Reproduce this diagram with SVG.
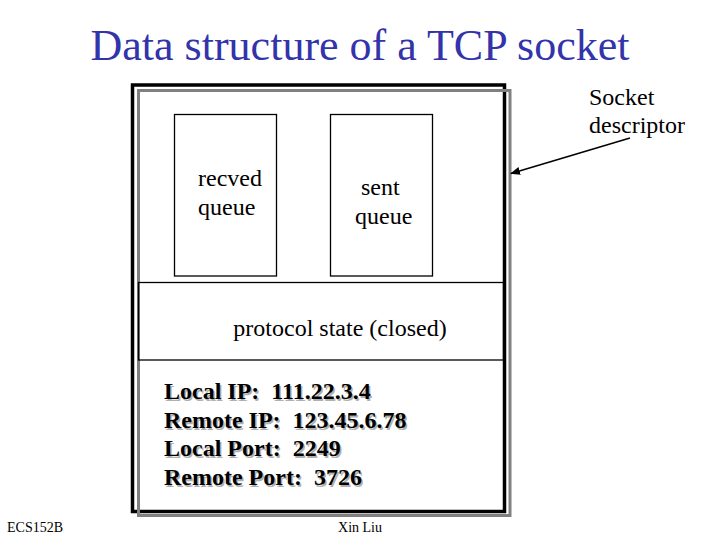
<svg xmlns="http://www.w3.org/2000/svg" width="720" height="540" viewBox="0 0 720 540">
<style>
.t{font-family:"Liberation Serif","Times New Roman",serif;fill:#000}
.box{fill:none;stroke:#000;stroke-width:1.3}
.info{font-family:"Liberation Serif","Times New Roman",serif;font-weight:bold;font-size:24px;white-space:pre}
</style>
<defs>
<marker id="ah" markerWidth="10" markerHeight="8" refX="9" refY="4" orient="auto" markerUnits="userSpaceOnUse">
<path d="M0,0 L10,4 L0,8 Z" fill="#000"/>
</marker>
</defs>
<rect width="720" height="540" fill="#fff"/>
<text class="t" x="360" y="60" text-anchor="middle" font-size="44" style="fill:#3333aa">Data structure of a TCP socket</text>
<g id="socket">
<rect x="132.5" y="85" width="372" height="426.5" fill="none" stroke="#000" stroke-width="3.5"/>
<rect x="138.5" y="90.5" width="371.5" height="425" fill="none" stroke="#808080" stroke-width="3"/>
</g>
<g id="recved">
<rect class="box" x="174.5" y="114.5" width="102" height="161.5"/>
<text class="t" font-size="24" x="198" y="186">recved</text>
<text class="t" font-size="24" x="198" y="215">queue</text>
</g>
<g id="sent">
<rect class="box" x="330.5" y="114.5" width="102" height="161.5"/>
<text class="t" font-size="24" x="361" y="195">sent</text>
<text class="t" font-size="24" x="355" y="224">queue</text>
</g>
<g id="state">
<rect class="box" x="138.5" y="282.5" width="365" height="77.5"/>
<text class="t" font-size="24" x="340" y="336" text-anchor="middle">protocol state (closed)</text>
</g>
<g id="addresses">
<g class="info" style="fill:#b0b0b0" transform="translate(1.5,1.5)">
<text x="164" y="399">Local IP:&#160; 111.22.3.4</text>
<text x="164" y="428">Remote IP:&#160; 123.45.6.78</text>
<text x="164" y="456">Local Port:&#160; 2249</text>
<text x="164" y="485">Remote Port:&#160; 3726</text>
</g>
<g class="info" style="fill:#000">
<text x="164" y="399">Local IP:&#160; 111.22.3.4</text>
<text x="164" y="428">Remote IP:&#160; 123.45.6.78</text>
<text x="164" y="456">Local Port:&#160; 2249</text>
<text x="164" y="485">Remote Port:&#160; 3726</text>
</g>
</g>
<g id="descriptor">
<text class="t" font-size="24" x="589" y="105">Socket</text>
<text class="t" font-size="24" x="589" y="133">descriptor</text>
</g>
<g id="connectors">
<line x1="630" y1="138" x2="511" y2="173.5" stroke="#000" stroke-width="1.5" marker-end="url(#ah)"/>
</g>
<text class="t" font-size="14" x="7" y="532">ECS152B</text>
<text class="t" font-size="14" x="360" y="532" text-anchor="middle">Xin Liu</text>
</svg>
